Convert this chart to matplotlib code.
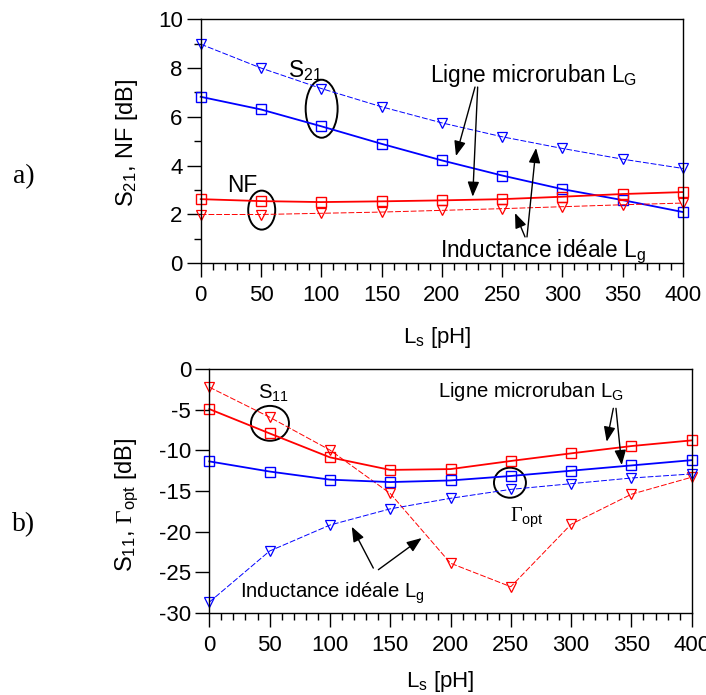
import matplotlib
matplotlib.use("Agg")
import matplotlib.pyplot as plt
from matplotlib.patches import Ellipse

plt.rcParams['font.family'] = ['Liberation Sans', 'DejaVu Sans']
plt.rcParams['mathtext.fontset'] = 'custom'
plt.rcParams['mathtext.rm'] = 'Liberation Serif'
plt.rcParams['mathtext.sf'] = 'Liberation Sans'
plt.rcParams['mathtext.it'] = 'Liberation Sans:italic'
plt.rcParams['axes.unicode_minus'] = False

# ---------------- data ----------------
ls_ph = [0, 50, 100, 150, 200, 250, 300, 350, 400]

s21_microruban = [6.82, 6.30, 5.61, 4.89, 4.21, 3.59, 3.03, 2.58, 2.09]
s21_ideale = [8.98, 8.00, 7.16, 6.41, 5.75, 5.18, 4.70, 4.26, 3.88]
nf_microruban = [2.62, 2.54, 2.50, 2.53, 2.57, 2.62, 2.72, 2.83, 2.91]
nf_ideale = [1.99, 1.99, 2.04, 2.09, 2.16, 2.23, 2.31, 2.39, 2.46]

s11_microruban = [-4.9, -7.9, -10.85, -12.4, -12.3, -11.3, -10.36, -9.46, -8.76]
s11_ideale = [-2.2, -5.9, -9.95, -15.3, -23.9, -26.8, -19.1, -15.4, -13.3]
gopt_microruban = [-11.35, -12.6, -13.6, -13.9, -13.7, -13.15, -12.5, -11.85, -11.2]
gopt_ideale = [-28.7, -22.4, -19.2, -17.2, -15.9, -14.8, -14.1, -13.4, -12.9]

xticks = [0, 50, 100, 150, 200, 250, 300, 350, 400]
yticks_a = [0, 2, 4, 6, 8, 10]
yticks_b = [0, -5, -10, -15, -20, -25, -30]

BLUE = '#0000ff'
RED = '#ff0000'
FS = 16

fig = plt.figure(figsize=(7.06, 6.95), dpi=100)
W, H = 706, 695

def px_axes(l, r, t, b):
    return fig.add_axes([l / W, 1 - b / H, (r - l) / W, (b - t) / H])

ax1 = px_axes(200.7, 683, 19.3, 263)
ax2 = px_axes(209.3, 691.7, 369.3, 612.7)

solid_kw = dict(lw=1.3, ls='-', marker='s', ms=6.5, mfc='none', mew=1.0)
dash_kw = dict(lw=0.7, ls=(0, (6, 2)), marker='v', ms=6.5, mfc='none', mew=0.9)

ax1.plot(ls_ph, s21_ideale, color=BLUE, **dash_kw, clip_on=False)
ax1.plot(ls_ph, s21_microruban, color=BLUE, **solid_kw, clip_on=False)
ax1.plot(ls_ph, nf_ideale, color=RED, **dash_kw, clip_on=False)
ax1.plot(ls_ph, nf_microruban, color=RED, **solid_kw, clip_on=False)

ax2.plot(ls_ph, s11_ideale, color=RED, **dash_kw, clip_on=False)
ax2.plot(ls_ph, s11_microruban, color=RED, **solid_kw, clip_on=False)
ax2.plot(ls_ph, gopt_ideale, color=BLUE, **dash_kw, clip_on=False)
ax2.plot(ls_ph, gopt_microruban, color=BLUE, **solid_kw, clip_on=False)

for ax in (ax1, ax2):
    ax.set_xlim(0, 400)
    ax.set_xticks(xticks)
    ax.set_xticks(range(0, 401, 10), minor=True)
    ax.tick_params(axis='both', which='major', direction='out', length=10,
                   width=1.0, labelsize=FS, pad=3)
    ax.tick_params(axis='both', which='minor', direction='out', length=5, width=1.0)
    ax.tick_params(axis='x', which='major', pad=6)
    for s in ax.spines.values():
        s.set_linewidth(1.0)

ax1.set_ylim(0, 10)
ax1.set_yticks(yticks_a)
ax1.set_yticks([1, 3, 5, 7, 9], minor=True)

ax2.set_ylim(-30, 0)
ax2.set_yticks(yticks_b)
ax2.set_yticks([], minor=True)

# axis labels
fig.text(127 / W, 1 - 143 / H, r'S$_{\mathsf{21}}$, NF [dB]', rotation=90,
         ha='center', va='center', fontsize=17)
fig.text(127 / W, 1 - 505 / H, r'S$_{\mathsf{11}}$, $\Gamma_{\mathsf{opt}}$ [dB]',
         rotation=90, ha='center', va='center', fontsize=17)
fig.text(437 / W, 1 - 338 / H, r'L$_{\mathsf{s}}$ [pH]', ha='center', va='center', fontsize=16)
fig.text(440 / W, 1 - 682 / H, r'L$_{\mathsf{s}}$ [pH]', ha='center', va='center', fontsize=16)

fig.text(24 / W, 1 - 177 / H, 'a)', family='Liberation Serif', fontsize=20,
         ha='center', va='center')
fig.text(24 / W, 1 - 525 / H, 'b)', family='Liberation Serif', fontsize=20,
         ha='center', va='center')

arrow_kw = dict(arrowstyle='-|>,head_length=0.9,head_width=0.35', lw=1.0, color='k',
                shrinkA=0, shrinkB=0)

def arrow(ax, tail, head):
    ax.annotate('', xy=head, xytext=tail, arrowprops=arrow_kw, annotation_clip=False)

# ---- annotations top ----
FA = 16.3
ax1.text(72.6, 7.63, r'S$_{\mathsf{21}}$', fontsize=FA, ha='left', va='baseline')
ax1.add_patch(Ellipse((100.3, 6.33), 26.5, 2.38, fill=False, lw=1.4, color='k'))
ax1.text(21.6, 2.93, 'NF', fontsize=FA, ha='left', va='baseline')
ax1.add_patch(Ellipse((50.6, 2.17), 22.4, 1.6, fill=False, lw=1.4, color='k'))
ax1.text(190.2, 7.43, r'Ligne microruban L$_{\mathsf{G}}$', fontsize=FA,
         ha='left', va='baseline')
arrow(ax1, (227.5, 7.22), (211.7, 4.39))
arrow(ax1, (229.7, 7.22), (225.6, 2.72))
ax1.text(198.5, 0.26, r'Inductance idéale L$_{\mathsf{g}}$', fontsize=FA,
         ha='left', va='baseline')
arrow(ax1, (269.0, 1.07), (260.7, 2.05))
arrow(ax1, (270.6, 1.07), (278.1, 4.72))

# ---- annotations bottom ----
FB = 14.6
ax2.text(40.6, -3.58, r'S$_{\mathsf{11}}$', fontsize=FB, ha='left', va='baseline')
ax2.add_patch(Ellipse((50.3, -6.66), 31.5, 4.3, fill=False, lw=1.4, color='k'))
ax2.text(189.6, -3.38, r'Ligne microruban L$_{\mathsf{G}}$', fontsize=FB,
         ha='left', va='baseline')
arrow(ax2, (335.0, -4.81), (329.5, -8.93))
arrow(ax2, (337.2, -4.81), (342.0, -11.8))
ax2.text(249.3, -18.8, r'$\Gamma_{\mathsf{opt}}$', fontsize=FB, ha='left', va='baseline')
ax2.add_patch(Ellipse((249.3, -13.98), 26.5, 3.7, fill=False, lw=1.4, color='k'))
ax2.text(25.5, -28.2, r'Inductance idéale L$_{\mathsf{g}}$', fontsize=FB,
         ha='left', va='baseline')
arrow(ax2, (136.0, -24.5), (118.1, -19.4))
arrow(ax2, (140.2, -24.7), (176.1, -20.8))

fig.savefig('out.png', dpi=100)
